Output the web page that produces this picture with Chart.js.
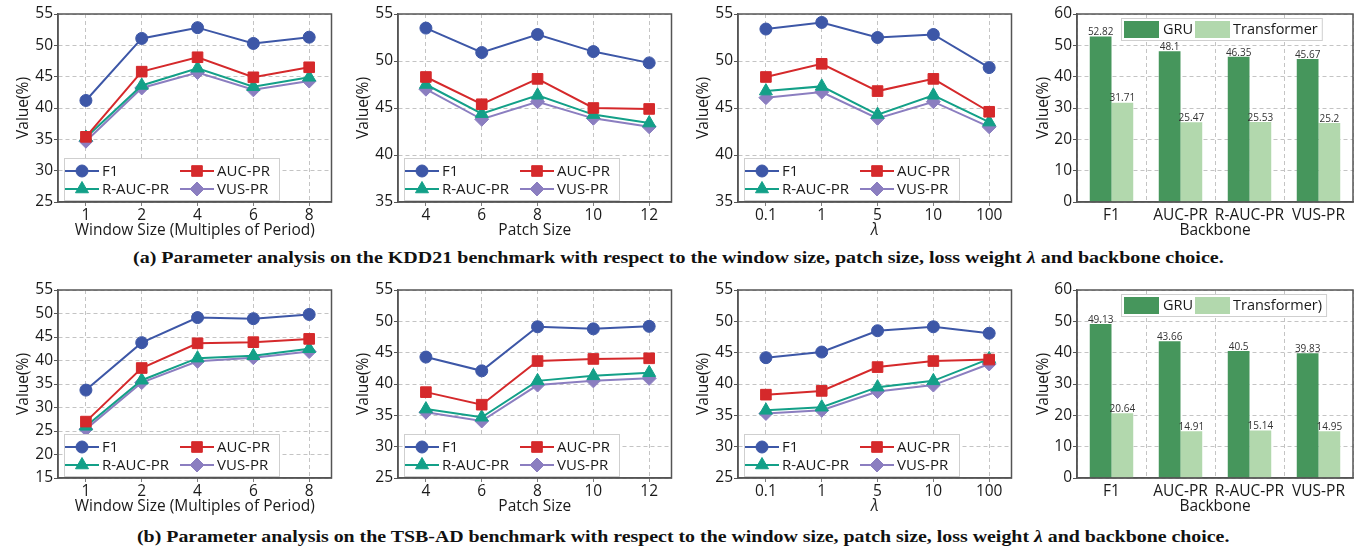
<!DOCTYPE html>
<html>
<head>
    <title>Parameter analysis on KDD21 and TSB-AD</title>
    <script src="https://cdn.jsdelivr.net/npm/chart.js"></script>
    <style>
        body {
            margin: 0;
            background: #fff;
            width: 1366px;
            height: 550px;
            position: relative;
            overflow: hidden;
        }
        canvas {
            position: absolute;
        }
        .caption {
            position: absolute;
            white-space: nowrap;
            font-family: 'Liberation Serif', serif;
            font-weight: bold;
            font-size: 16px;
            color: #111;
            transform-origin: 0 0;
        }
    </style>
</head>
<body>
    <canvas id="kddWindow" width="340" height="245" style="left:0;top:0"></canvas>
    <canvas id="kddPatch" width="340" height="245" style="left:340px;top:0"></canvas>
    <canvas id="kddLambda" width="340" height="245" style="left:680px;top:0"></canvas>
    <canvas id="kddBackbone" width="346" height="245" style="left:1020px;top:0"></canvas>
    <span class="caption" id="capA" style="left:133px;top:249px">(a) Parameter analysis on the KDD21 benchmark with respect to the window size, patch size, loss weight <i>λ</i> and backbone choice.</span>

    <canvas id="tsbWindow" width="340" height="245" style="left:0;top:276px"></canvas>
    <canvas id="tsbPatch" width="340" height="245" style="left:340px;top:276px"></canvas>
    <canvas id="tsbLambda" width="340" height="245" style="left:680px;top:276px"></canvas>
    <canvas id="tsbBackbone" width="346" height="245" style="left:1020px;top:276px"></canvas>
    <span class="caption" id="capB" style="left:137px;top:528px">(b) Parameter analysis on the TSB-AD benchmark with respect to the window size, patch size, loss weight <i>λ</i> and backbone choice.</span>

    <script>
        const windowSizes = ['1', '2', '4', '6', '8'];
        const patchSizes = ['4', '6', '8', '10', '12'];
        const lambdas = ['0.1', '1', '5', '10', '100'];
        const metrics = ['F1', 'AUC-PR', 'R-AUC-PR', 'VUS-PR'];

        // KDD21
        const kddWindowF1 = [41.2, 51.1, 52.82, 50.3, 51.3];
        const kddWindowAucPr = [35.4, 45.8, 48.1, 44.9, 46.5];
        const kddWindowRAucPr = [35.3, 43.6, 46.35, 43.4, 44.9];
        const kddWindowVusPr = [34.7, 43.2, 45.67, 42.9, 44.3];

        const kddPatchF1 = [53.5, 50.9, 52.82, 51.0, 49.8];
        const kddPatchAucPr = [48.3, 45.4, 48.1, 45.0, 44.9];
        const kddPatchRAucPr = [47.5, 44.4, 46.35, 44.3, 43.4];
        const kddPatchVusPr = [47.0, 43.8, 45.67, 43.9, 43.0];

        const kddLambdaF1 = [53.4, 54.1, 52.5, 52.82, 49.3];
        const kddLambdaAucPr = [48.3, 49.7, 46.8, 48.1, 44.6];
        const kddLambdaRAucPr = [46.8, 47.3, 44.3, 46.35, 43.5];
        const kddLambdaVusPr = [46.1, 46.7, 43.9, 45.67, 43.0];

        const kddGru = [52.82, 48.1, 46.35, 45.67];
        const kddTransformer = [31.71, 25.47, 25.53, 25.2];

        // TSB-AD
        const tsbWindowF1 = [33.7, 43.8, 49.13, 48.9, 49.8];
        const tsbWindowAucPr = [27.0, 38.4, 43.66, 43.9, 44.6];
        const tsbWindowRAucPr = [26.0, 35.8, 40.5, 41.0, 42.5];
        const tsbWindowVusPr = [25.4, 35.3, 39.83, 40.6, 41.9];

        const tsbPatchF1 = [44.3, 42.1, 49.13, 48.8, 49.2];
        const tsbPatchAucPr = [38.7, 36.7, 43.66, 44.0, 44.1];
        const tsbPatchRAucPr = [36.0, 34.7, 40.5, 41.3, 41.8];
        const tsbPatchVusPr = [35.5, 34.1, 39.83, 40.5, 40.9];

        const tsbLambdaF1 = [44.2, 45.1, 48.5, 49.13, 48.1];
        const tsbLambdaAucPr = [38.3, 38.9, 42.7, 43.66, 43.9];
        const tsbLambdaRAucPr = [35.8, 36.3, 39.5, 40.5, 44.0];
        const tsbLambdaVusPr = [35.3, 35.8, 38.8, 39.83, 43.2];

        const tsbGru = [49.13, 43.66, 40.5, 39.83];
        const tsbTransformer = [20.64, 14.91, 15.14, 14.95];

        const FONT = "'Open Sans', sans-serif";
        const FS = 15.5;
        const TEXT = '#1a1a1a';
        const AXIS = '#555';
        const GRID = '#c4c4c4';

        const seriesStyles = [
            { color: '#3d57a7', point: 'circle', radius: 6 },
            { color: '#d5292b', point: 'rect', radius: 7.5 },
            { color: '#13a088', point: 'triangle', radius: 7.5 },
            { color: '#8b7ec0', point: 'rectRot', radius: 7 }
        ];

        // box round the plot area, like a matplotlib frame
        const framePlugin = {
            id: 'frame',
            afterDraw(chart) {
                const { ctx, chartArea: a } = chart;
                ctx.save();
                ctx.strokeStyle = AXIS;
                ctx.lineWidth = 1.5;
                ctx.strokeRect(a.left, a.top, a.right - a.left, a.bottom - a.top);
                ctx.restore();
            }
        };

        // two-column legend in the lower left corner of the line plots
        const lineLegendPlugin = {
            id: 'lineLegend',
            afterDraw(chart) {
                const { ctx, chartArea: a } = chart;
                ctx.save();
                ctx.fillStyle = '#fff';
                ctx.strokeStyle = '#cfcfcf';
                ctx.lineWidth = 1;
                ctx.fillRect(a.left + 6, a.bottom - 44, 215, 42);
                ctx.strokeRect(a.left + 6.5, a.bottom - 43.5, 215, 42);
                const cols = [a.left + 7, a.left + 122];
                const rows = [a.bottom - 31, a.bottom - 13];
                chart.data.datasets.forEach((ds, k) => {
                    const st = seriesStyles[k];
                    const x0 = cols[k % 2];
                    const y = rows[Math.floor(k / 2)];
                    ctx.strokeStyle = st.color;
                    ctx.lineWidth = 2;
                    ctx.beginPath();
                    ctx.moveTo(x0, y);
                    ctx.lineTo(x0 + 34, y);
                    ctx.stroke();
                    ctx.fillStyle = st.color;
                    ctx.lineWidth = 1;
                    Chart.helpers.drawPoint(ctx, { pointStyle: st.point, radius: st.radius, rotation: 0, borderWidth: 1 }, x0 + 17, y);
                    ctx.fillStyle = TEXT;
                    ctx.font = '15px ' + FONT;
                    ctx.textBaseline = 'middle';
                    ctx.textAlign = 'left';
                    ctx.fillText(ds.label, x0 + 37, y + 1);
                });
                ctx.restore();
            }
        };

        // value written over each bar
        const barLabelPlugin = {
            id: 'barLabels',
            afterDatasetsDraw(chart) {
                const { ctx } = chart;
                ctx.save();
                ctx.font = '10px ' + FONT;
                ctx.fillStyle = '#333';
                ctx.textAlign = 'center';
                ctx.textBaseline = 'bottom';
                chart.data.datasets.forEach((ds, k) => {
                    chart.getDatasetMeta(k).data.forEach((bar, i) => {
                        ctx.fillText(String(ds.data[i]), bar.x, bar.y + 1);
                    });
                });
                ctx.restore();
            }
        };

        const barLegendPlugin = {
            id: 'barLegend',
            afterDraw(chart) {
                const { ctx, chartArea: a } = chart;
                ctx.save();
                ctx.font = '14.5px ' + FONT;
                const ds = chart.data.datasets;
                const textEnd = a.left + 156 + ctx.measureText(ds[1].label).width;
                ctx.fillStyle = '#fff';
                ctx.fillRect(a.left + 44, a.top + 4, textEnd + 4 - (a.left + 44), 23);
                ctx.strokeStyle = '#cfcfcf';
                ctx.lineWidth = 1;
                ctx.strokeRect(a.left + 44.5, a.top + 4.5, textEnd + 4 - (a.left + 44), 22);
                const sw = [a.left + 47, a.left + 118];
                const tx = [a.left + 86, a.left + 156];
                ds.forEach((d, k) => {
                    ctx.fillStyle = d.backgroundColor;
                    ctx.fillRect(sw[k], a.top + 7, 35, 17);
                    ctx.fillStyle = TEXT;
                    ctx.textBaseline = 'middle';
                    ctx.textAlign = 'left';
                    ctx.fillText(d.label, tx[k], a.top + 16);
                });
                ctx.restore();
            }
        };

        function gridOpts(tickColor) {
            return {
                color: GRID,
                lineWidth: 1,
                tickLength: 4,
                tickColor: tickColor,
                tickBorderDash: [1, 0]
            };
        }

        const borderOpts = { color: AXIS, width: 1.5, dash: [4, 3] };

        function lineChart(id, cats, series, yMin, yMax, xTitle, italicTitle) {
            new Chart(document.getElementById(id), {
                type: 'line',
                data: {
                    datasets: series.map((vals, k) => {
                        const st = seriesStyles[k];
                        return {
                            label: metrics[k],
                            data: vals.map((v, i) => ({ x: i, y: v })),
                            borderColor: st.color,
                            backgroundColor: st.color,
                            borderWidth: 2,
                            pointStyle: st.point,
                            pointRadius: st.radius,
                            pointBorderWidth: 1,
                            pointBorderColor: st.color,
                            pointBackgroundColor: st.color,
                            tension: 0
                        };
                    })
                },
                options: {
                    responsive: false,
                    animation: false,
                    layout: { padding: { top: 14, right: 7, left: 0, bottom: 0 } },
                    plugins: { legend: { display: false }, tooltip: { enabled: false } },
                    scales: {
                        x: {
                            type: 'linear',
                            min: -0.5,
                            max: 4.4,
                            afterBuildTicks: s => { s.ticks = cats.map((c, i) => ({ value: i })); },
                            afterFit: s => { s.height = 43; },
                            ticks: {
                                callback: v => cats[v],
                                font: { family: FONT, size: FS },
                                color: TEXT,
                                padding: 0,
                                maxRotation: 0,
                                autoSkip: false
                            },
                            grid: gridOpts(AXIS),
                            border: borderOpts,
                            title: {
                                display: true,
                                text: xTitle,
                                color: TEXT,
                                font: { family: FONT, size: FS, style: italicTitle ? 'italic' : 'normal' },
                                padding: { top: 0, bottom: 5 }
                            }
                        },
                        y: {
                            min: yMin,
                            max: yMax,
                            afterFit: s => { s.width = 58; },
                            ticks: { stepSize: 5, font: { family: FONT, size: FS }, color: TEXT, padding: 1 },
                            grid: gridOpts(AXIS),
                            border: borderOpts,
                            title: {
                                display: true,
                                text: 'Value(%)',
                                color: TEXT,
                                font: { family: FONT, size: FS },
                                padding: { top: 14, bottom: 0 }
                            }
                        }
                    }
                },
                plugins: [framePlugin, lineLegendPlugin]
            });
        }

        function barChart(id, gru, transformer, secondLabel) {
            new Chart(document.getElementById(id), {
                type: 'bar',
                data: {
                    labels: metrics,
                    datasets: [
                        { label: 'GRU', data: gru, backgroundColor: '#46965c' },
                        { label: secondLabel, data: transformer, backgroundColor: '#b2d8ad' }
                    ]
                },
                options: {
                    responsive: false,
                    animation: false,
                    barPercentage: 1,
                    categoryPercentage: 0.63,
                    layout: { padding: { top: 14, right: 13, left: 0, bottom: 0 } },
                    plugins: { legend: { display: false }, tooltip: { enabled: false } },
                    scales: {
                        x: {
                            afterFit: s => { s.height = 43; },
                            ticks: { font: { family: FONT, size: FS }, color: TEXT, padding: 0, maxRotation: 0, autoSkip: false },
                            grid: Object.assign(gridOpts('rgba(0,0,0,0)'), { offset: true }),
                            border: borderOpts,
                            title: {
                                display: true,
                                text: 'Backbone',
                                color: TEXT,
                                font: { family: FONT, size: FS },
                                padding: { top: 0, bottom: 5 }
                            }
                        },
                        y: {
                            min: 0,
                            max: 60,
                            afterFit: s => { s.width = 57; },
                            ticks: { stepSize: 10, font: { family: FONT, size: FS }, color: TEXT, padding: 1 },
                            grid: gridOpts(AXIS),
                            border: borderOpts,
                            title: {
                                display: true,
                                text: 'Value(%)',
                                color: TEXT,
                                font: { family: FONT, size: FS },
                                padding: { top: 14, bottom: 0 }
                            }
                        }
                    }
                },
                plugins: [framePlugin, barLabelPlugin, barLegendPlugin]
            });
        }

        lineChart('kddWindow', windowSizes, [kddWindowF1, kddWindowAucPr, kddWindowRAucPr, kddWindowVusPr], 25, 55, 'Window Size (Multiples of Period)', false);
        lineChart('kddPatch', patchSizes, [kddPatchF1, kddPatchAucPr, kddPatchRAucPr, kddPatchVusPr], 35, 55, 'Patch Size', false);
        lineChart('kddLambda', lambdas, [kddLambdaF1, kddLambdaAucPr, kddLambdaRAucPr, kddLambdaVusPr], 35, 55, 'λ', true);
        barChart('kddBackbone', kddGru, kddTransformer, 'Transformer');

        lineChart('tsbWindow', windowSizes, [tsbWindowF1, tsbWindowAucPr, tsbWindowRAucPr, tsbWindowVusPr], 15, 55, 'Window Size (Multiples of Period)', false);
        lineChart('tsbPatch', patchSizes, [tsbPatchF1, tsbPatchAucPr, tsbPatchRAucPr, tsbPatchVusPr], 25, 55, 'Patch Size', false);
        lineChart('tsbLambda', lambdas, [tsbLambdaF1, tsbLambdaAucPr, tsbLambdaRAucPr, tsbLambdaVusPr], 25, 55, 'λ', true);
        barChart('tsbBackbone', tsbGru, tsbTransformer, 'Transformer)');

        // captions are set in a condensed serif in the paper; squeeze to the same width
        [['capA', 1091], ['capB', 1092]].forEach(([id, w]) => {
            const el = document.getElementById(id);
            const scale = w / el.getBoundingClientRect().width;
            el.style.transform = 'scaleX(' + scale.toFixed(3) + ')';
        });
    </script>
</body>
</html>
